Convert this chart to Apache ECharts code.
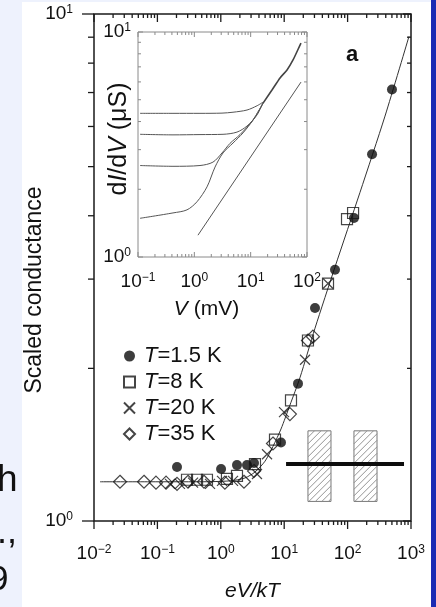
<!DOCTYPE html>
<html><head><meta charset="utf-8">
<script src="https://cdn.jsdelivr.net/npm/echarts@6/dist/echarts.min.js"></script>
<style>html,body{margin:0;padding:0;background:#eef2fd}#c{width:436px;height:607px}</style>
</head><body><div id="c"></div>
<script>
// ---------- main panel data (eV/kT vs scaled conductance) ----------
const t15X = [0.204, 1.01, 1.80, 2.59, 3.34, 8.9, 16.5, 30.6, 63.3, 126, 243, 501];
const t15Y = [1.278, 1.266, 1.289, 1.289, 1.301, 1.428, 1.866, 2.63, 3.13, 3.96, 5.29, 7.10];
const t8X = [0.293, 0.422, 0.605, 1.25, 1.80, 3.46, 7.16, 12.8, 23.7, 49.1, 97.9, 122];
const t8Y = [1.206, 1.206, 1.206, 1.211, 1.227, 1.295, 1.447, 1.73, 2.27, 2.94, 3.94, 4.05];
const t20X = [0.158, 0.227, 0.365, 0.676, 1.045, 1.56, 3.72, 5.36, 9.93, 21.3, 49.1];
const t20Y = [1.184, 1.184, 1.190, 1.184, 1.200, 1.200, 1.238, 1.354, 1.64, 2.08, 2.94];
const t35X = [0.0257, 0.0615, 0.095, 0.137, 0.204, 0.304, 0.543, 1.16, 2.32, 3.34, 6.65, 12.3, 23.7, 28.4];
const t35Y = [1.195, 1.195, 1.190, 1.190, 1.184, 1.195, 1.195, 1.190, 1.195, 1.255, 1.422, 1.625, 2.27, 2.31];
const fitX = [0.01244, 0.0764, 0.470, 1.40, 2.41, 3.46, 4.98, 6.65, 8.91, 12.3, 17.7, 30.6, 63.3, 157, 389, 929];
const fitY = [1.195, 1.195, 1.195, 1.200, 1.216, 1.249, 1.312, 1.403, 1.519, 1.692, 1.916, 2.40, 3.17, 4.45, 6.29, 9.03];
const legendNames = ['T=1.5 K', 'T=8 K', 'T=20 K', 'T=35 K'];
// hatched boxes [x0, x1, y0, y1] and thick bar
const boxX0 = [23.7, 126];
const boxX1 = [54.7, 291];
const boxY0 = [1.093, 1.093];
const boxY1 = [1.506, 1.506];
const barX = [10.7, 776];
const barY = [1.295, 1.295];

// ---------- inset data (V in mV vs dI/dV in uS) ----------
const c1X = [0.1086, 0.418, 1.26, 3.10, 4.86, 8.61, 12.97, 16.6];
const c1Y = [4.35, 4.35, 4.35, 4.36, 4.40, 4.50, 4.70, 4.88];
const c2X = [0.1086, 0.418, 1.26, 3.23, 5.71, 8.61, 12.97, 16.6];
const c2Y = [3.51, 3.49, 3.50, 3.51, 3.59, 3.82, 4.28, 4.85];
const c3X = [0.1086, 0.418, 1.26, 2.14, 3.10, 4.30, 6.47, 11.0, 16.6];
const c3Y = [2.55, 2.53, 2.55, 2.64, 2.90, 3.20, 3.50, 4.06, 4.83];
const c4X = [0.1086, 0.418, 0.741, 1.114, 1.68, 2.33, 3.23, 4.86, 7.31, 11.0, 16.6];
const c4Y = [1.486, 1.57, 1.62, 1.76, 2.05, 2.51, 2.90, 3.21, 3.56, 4.06, 4.83];
const tailX = [16.6, 23.9, 33.2, 44.2, 56.5, 75.2, 78.3];
const tailY = [4.83, 5.52, 6.25, 6.78, 7.51, 8.75, 8.93];
const refX = [1.16, 78.3];
const refY = [1.25, 5.99];

const zip = (a, b) => a.map((v, i) => [v, b[i]]);
const FONT = 'Liberation Sans, Arial, Helvetica, sans-serif';

function expLabel(v) {
  const e = Math.round(Math.log10(v));
  return '{b|10}{s|' + (e < 0 ? '\u2212' + (-e) : e) + '}';
}
const labRich = {
  b: { fontSize: 19, fontFamily: FONT, color: '#111', lineHeight: 20 },
  s: { fontSize: 12, fontFamily: FONT, color: '#111', lineHeight: 12, verticalAlign: 'top' }
};

// tick definitions: [x, y, side(1 bottom,2 top,3 left,4 right), length]
function decadeTicks(lo, hi) {
  const major = [], minor = [];
  for (let e = lo; e <= hi; e++) major.push(Math.pow(10, e));
  for (let e = lo; e < hi; e++) for (let m = 2; m <= 9; m++) minor.push(m * Math.pow(10, e));
  return { major, minor };
}
function buildTicks(xr, yr, xmin, xmax, ymin, ymax, L) {
  const out = [];
  xr.major.forEach(v => { out.push([v, ymin, 1, L.bMaj]); out.push([v, ymax, 2, L.tMaj]); });
  xr.minor.forEach(v => { out.push([v, ymin, 1, L.bMin]); out.push([v, ymax, 2, L.tMin]); });
  yr.major.forEach(v => { out.push([xmin, v, 3, L.lMaj]); out.push([xmax, v, 4, L.rMaj]); });
  yr.minor.forEach(v => { out.push([xmin, v, 3, L.lMin]); out.push([xmax, v, 4, L.rMin]); });
  return out;
}
const mainTicks = buildTicks(decadeTicks(-2, 3), decadeTicks(0, 1), 0.01, 1000, 1, 10,
  { bMaj: 8, bMin: 4, tMaj: 8, tMin: 4, lMaj: -12, lMin: -6, rMaj: -8, rMin: -4 });
const insetTicks = buildTicks(decadeTicks(-1, 2), decadeTicks(0, 1), 0.1, 100, 1, 10,
  { bMaj: -5, bMin: -3, tMaj: 5, tMin: 3, lMaj: 5, lMin: 3, rMaj: -5, rMin: -3 });

function tickRenderer(color, width) {
  return function (params, api) {
    const cs = params.coordSys;
    const side = api.value(2), len = api.value(3);
    const p = api.coord([api.value(0), api.value(1)]);
    let x1, y1, x2, y2;
    if (side === 1) { x1 = x2 = p[0]; y1 = cs.y + cs.height; y2 = y1 + len; }
    else if (side === 2) { x1 = x2 = p[0]; y1 = cs.y; y2 = y1 + len; }
    else if (side === 3) { y1 = y2 = p[1]; x1 = cs.x; x2 = x1 + len; }
    else { y1 = y2 = p[1]; x1 = cs.x + cs.width; x2 = x1 + len; }
    return { type: 'line', shape: { x1, y1, x2, y2 }, style: { stroke: color, lineWidth: width } };
  };
}

function hatchRender(params, api) {
  const a = api.coord([api.value(0), api.value(3)]);
  const b = api.coord([api.value(1), api.value(2)]);
  const x0 = a[0], y0 = a[1], x1 = b[0], y1 = b[1];
  const children = [{ type: 'rect', shape: { x: x0, y: y0, width: x1 - x0, height: y1 - y0 },
    style: { fill: '#fff', stroke: '#777', lineWidth: 1 } }];
  const step = 6.5;
  for (let c = x0 + y0 + step; c < x1 + y1; c += step) {
    const xa = Math.max(x0, c - y1), xb = Math.min(x1, c - y0);
    if (xa < xb) children.push({ type: 'line', shape: { x1: xa, y1: c - xa, x2: xb, y2: c - xb },
      style: { stroke: '#888', lineWidth: 0.9 } });
  }
  return { type: 'group', children };
}

const hollow = { color: 'rgba(255,255,255,0)', borderColor: '#161616', borderWidth: 1.2 };
const crossPath = 'path://M0,0L10,10M10,0L0,10';
const tickDims = ['x', 'y', 'side', 'len'];

const option = {
  animation: false,
  backgroundColor: '#eef2fd',
  textStyle: { fontFamily: FONT },
  graphic: [
    { type: 'rect', z: -10, shape: { x: 22, y: 2, width: 409, height: 605 }, style: { fill: '#ffffff' } },
    { type: 'rect', z: -10, shape: { x: 431, y: 0, width: 5, height: 607 }, style: { fill: '#1a2bb3' } },
    { type: 'text', x: -3, y: 481, style: { text: 'h', font: '37px ' + FONT, fill: '#111', textAlign: 'left', textVerticalAlign: 'middle' } },
    { type: 'text', x: -3, y: 533, style: { text: '.,', font: '36px ' + FONT, fill: '#111', textAlign: 'left', textVerticalAlign: 'middle' } },
    { type: 'text', x: -11, y: 580, style: { text: '9', font: '35px ' + FONT, fill: '#111', textAlign: 'left', textVerticalAlign: 'middle' } },
    { type: 'text', x: 35, y: 290, rotation: Math.PI / 2,
      style: { text: 'Scaled conductance', font: '23px ' + FONT, fill: '#111', textAlign: 'center', textVerticalAlign: 'middle' } },
    { type: 'text', x: 119, y: 139, rotation: Math.PI / 2,
      style: { text: 'd{i|I}/d{i|V} (\u03bcS)', font: '25px ' + FONT, fill: '#111', textAlign: 'center', textVerticalAlign: 'middle',
        rich: { i: { fontStyle: 'italic', fontSize: 25, fontFamily: FONT } } } },
    { type: 'text', x: 352, y: 55, style: { text: 'a', font: 'bold 22px ' + FONT, fill: '#111', textAlign: 'center', textVerticalAlign: 'middle' } }
  ],
  legend: {
    data: legendNames, orient: 'vertical', left: 118, top: 340,
    itemWidth: 11, itemHeight: 11, itemGap: 4, selectedMode: false,
    formatter: n => '{i|T}' + n.slice(1),
    textStyle: { fontSize: 22, fontFamily: FONT, color: '#111', lineHeight: 21, padding: [0, 0, 0, 4],
      rich: { i: { fontStyle: 'italic', fontSize: 22, fontFamily: FONT, color: '#111', lineHeight: 21 } } }
  },
  grid: [
    { left: 94, top: 14, width: 317, height: 517, show: true, borderColor: '#1a1a1a', borderWidth: 1.5, backgroundColor: 'transparent' },
    { left: 138, top: 32, width: 169, height: 225, show: true, borderColor: '#8a8a8a', borderWidth: 1, backgroundColor: '#fff' }
  ],
  xAxis: [
    { gridIndex: 0, type: 'log', logBase: 10, min: 0.01, max: 1000,
      axisLine: { show: false }, axisTick: { show: false }, splitLine: { show: false }, minorTick: { show: false },
      axisLabel: { formatter: expLabel, rich: labRich, margin: 23, showMinLabel: true, showMaxLabel: true },
      name: 'eV/kT', nameLocation: 'middle', nameGap: 60,
      nameTextStyle: { fontSize: 21, fontStyle: 'italic', fontFamily: FONT, color: '#111' } },
    { gridIndex: 1, type: 'log', logBase: 10, min: 0.1, max: 100,
      axisLine: { show: false }, axisTick: { show: false }, splitLine: { show: false },
      axisLabel: { formatter: expLabel, rich: labRich, margin: 15, showMinLabel: true, showMaxLabel: true },
      name: '{i|V} (mV)', nameLocation: 'middle', nameGap: 42,
      nameTextStyle: { fontSize: 21, fontFamily: FONT, color: '#111', padding: [0, 32, 0, 0],
        rich: { i: { fontStyle: 'italic', fontSize: 21, fontFamily: FONT, color: '#111' } } } }
  ],
  yAxis: [
    { gridIndex: 0, type: 'log', logBase: 10, min: 1, max: 10,
      axisLine: { show: false }, axisTick: { show: false }, splitLine: { show: false },
      axisLabel: { formatter: expLabel, rich: labRich, margin: 21, showMinLabel: true, showMaxLabel: true } },
    { gridIndex: 1, type: 'log', logBase: 10, min: 1, max: 10,
      axisLine: { show: false }, axisTick: { show: false }, splitLine: { show: false },
      axisLabel: { formatter: expLabel, rich: labRich, margin: 7, showMinLabel: true, showMaxLabel: true } }
  ],
  series: [
    { type: 'custom', name: 'mainTicks', xAxisIndex: 0, yAxisIndex: 0, dimensions: tickDims, encode: { x: 0, y: 1 },
      data: mainTicks, renderItem: tickRenderer('#1a1a1a', 1.3), silent: true, clip: false, z: 3 },
    { type: 'custom', name: 'insetTicks', xAxisIndex: 1, yAxisIndex: 1, dimensions: tickDims, encode: { x: 0, y: 1 },
      data: insetTicks, renderItem: tickRenderer('#8a8a8a', 1), silent: true, clip: false, z: 3 },
    { type: 'custom', name: 'boxes', xAxisIndex: 0, yAxisIndex: 0,
      data: boxX0.map((v, i) => [v, boxX1[i], boxY0[i], boxY1[i]]), encode: { x: [0, 1], y: [2, 3] },
      renderItem: hatchRender, silent: true, z: 1 },
    { type: 'line', name: 'bar', xAxisIndex: 0, yAxisIndex: 0, data: zip(barX, barY), showSymbol: false,
      lineStyle: { color: '#0d0d0d', width: 4 }, silent: true, z: 2 },
    { type: 'line', name: 'fit', xAxisIndex: 0, yAxisIndex: 0, data: zip(fitX, fitY), showSymbol: false, smooth: 0.25,
      lineStyle: { color: '#333', width: 1 }, silent: true, z: 2 },
    { type: 'scatter', name: legendNames[0], xAxisIndex: 0, yAxisIndex: 0, data: zip(t15X, t15Y), symbol: 'circle', symbolSize: 10,
      itemStyle: { color: '#0d0d0d' }, z: 4 },
    { type: 'scatter', name: legendNames[1], xAxisIndex: 0, yAxisIndex: 0, data: zip(t8X, t8Y), symbol: 'rect', symbolSize: 11,
      itemStyle: hollow, z: 5 },
    { type: 'scatter', name: legendNames[2], xAxisIndex: 0, yAxisIndex: 0, data: zip(t20X, t20Y), symbol: crossPath, symbolSize: 10,
      itemStyle: hollow, z: 6 },
    { type: 'scatter', name: legendNames[3], xAxisIndex: 0, yAxisIndex: 0, data: zip(t35X, t35Y), symbol: 'diamond', symbolSize: [13, 13],
      itemStyle: hollow, z: 7 },
    ...[[c1X, c1Y], [c2X, c2Y], [c3X, c3Y], [c4X, c4Y]].map((c, i) => ({
      type: 'line', name: 'curve' + (i + 1), xAxisIndex: 1, yAxisIndex: 1, data: zip(c[0], c[1]), showSymbol: false, smooth: 0.3,
      lineStyle: { color: '#555', width: 1 }, silent: true, z: 3 })),
    { type: 'line', name: 'tail', xAxisIndex: 1, yAxisIndex: 1, data: zip(tailX, tailY), showSymbol: false, smooth: 0.2,
      lineStyle: { color: '#444', width: 1.6 }, silent: true, z: 3 },
    { type: 'line', name: 'ref', xAxisIndex: 1, yAxisIndex: 1, data: zip(refX, refY), showSymbol: false,
      lineStyle: { color: '#555', width: 1 }, silent: true, z: 3 }
  ]
};
const chart = echarts.init(document.getElementById('c'), null, { renderer: 'canvas' });
chart.setOption(option);
</script></body></html>
